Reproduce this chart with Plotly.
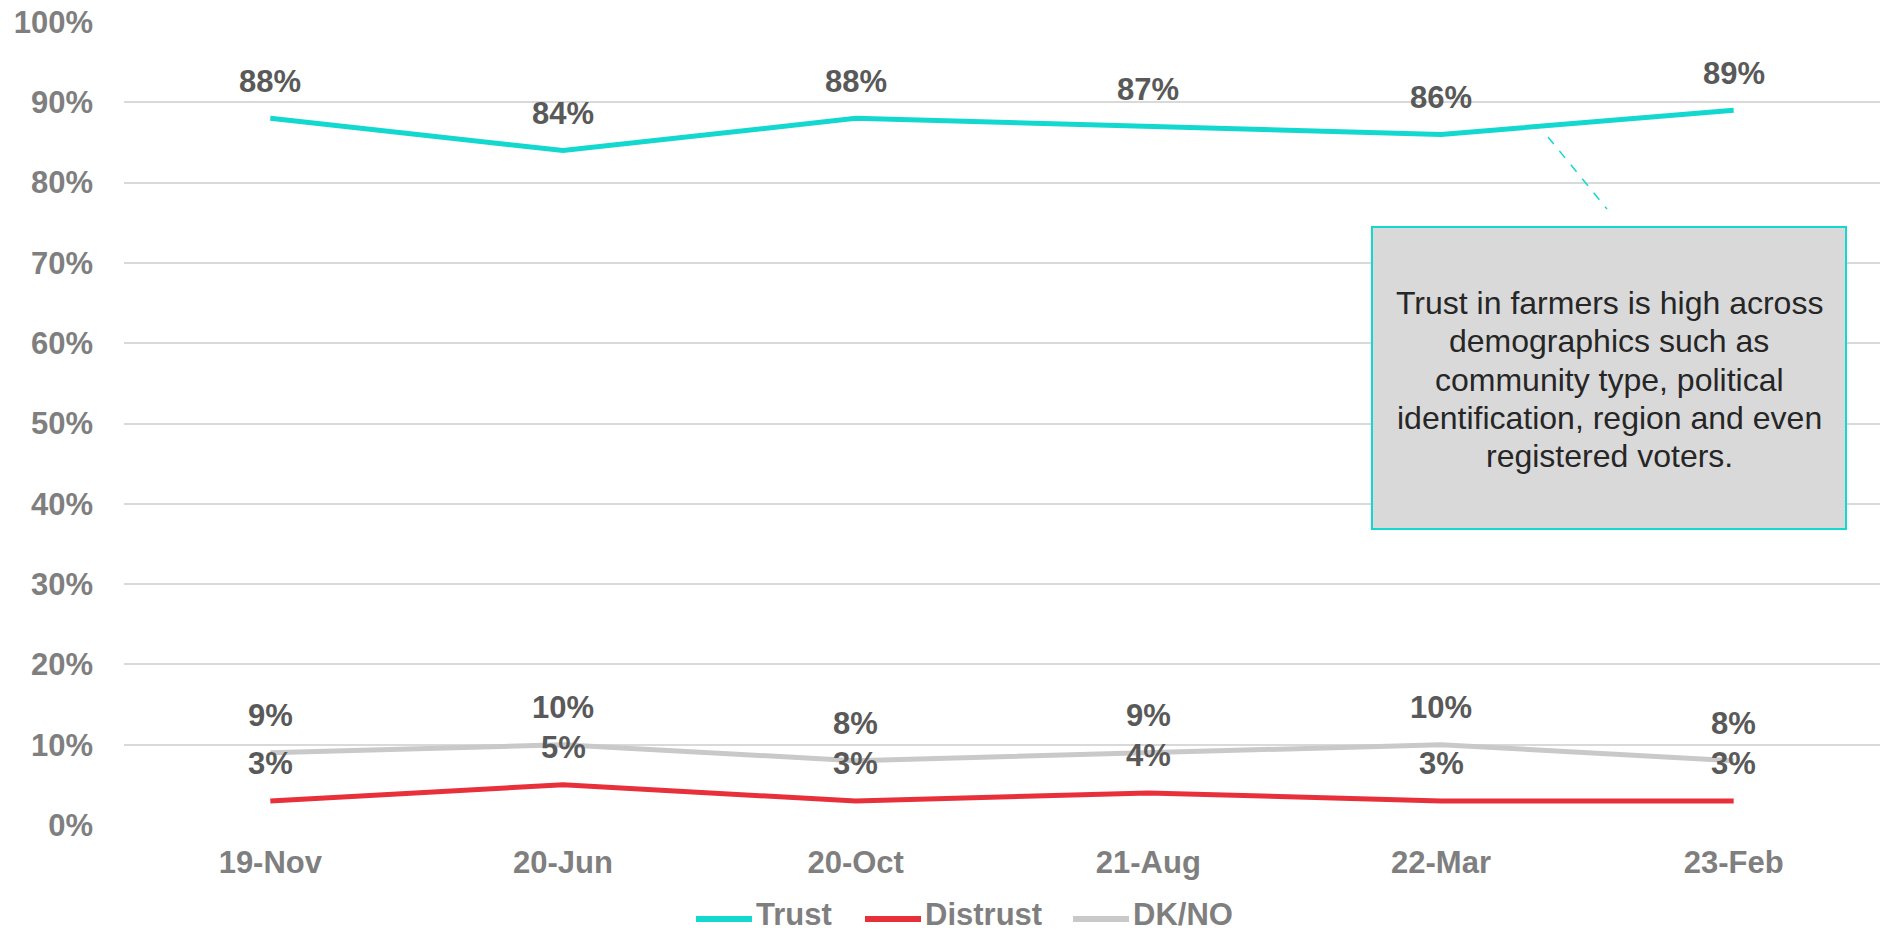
import plotly.graph_objects as go

categories = ["19-Nov", "20-Jun", "20-Oct", "21-Aug", "22-Mar", "23-Feb"]
trust = [0.88, 0.84, 0.88, 0.87, 0.86, 0.89]
distrust = [0.03, 0.05, 0.03, 0.04, 0.03, 0.03]
dkno = [0.09, 0.10, 0.08, 0.09, 0.10, 0.08]
series_names = ["Trust", "Distrust", "DK/NO"]
series_colors = ["#12D8CF", "#E8303A", "#C9C9C9"]
y_ticks = [0, 0.1, 0.2, 0.3, 0.4, 0.5, 0.6, 0.7, 0.8, 0.9, 1.0]
note_lines = [
    "Trust in farmers is high across",
    "demographics such as",
    "community type, political",
    "identification, region and even",
    "registered voters.",
]

FONT = "Liberation Sans, Arial, sans-serif"
W, H = 1882, 936
L, R, T, B = 124, 2, 22, 111
PW, PH = W - L - R, H - T - B


def px(x):
    return (x - L) / PW


def py(y):
    return (H - B - y) / PH


fig = go.Figure()
annotations = []
for name, vals, color in zip(series_names, [trust, distrust, dkno], series_colors):
    fig.add_trace(go.Scatter(
        x=categories, y=vals, name=name, mode="lines",
        line=dict(color=color, width=5), hoverinfo="skip", showlegend=False,
    ))
    for c, v in zip(categories, vals):
        annotations.append(dict(
            x=c, y=v, xref="x", yref="y", text=f"{round(v*100)}%",
            showarrow=False, yshift=37,
            font=dict(family=FONT, size=31, color="#595959", weight="bold"),
        ))

# note box
fig.add_shape(
    type="rect", xref="paper", yref="paper",
    x0=px(1372), x1=px(1846), y0=py(529), y1=py(227),
    fillcolor="#D9D9D9", line=dict(color="#12D8CF", width=2), layer="above",
)
for i, line in enumerate(note_lines):
    annotations.append(dict(
        xref="paper", yref="paper", x=px((1372 + 1846) / 2), y=py(303 + 38.3 * i),
        xanchor="center", yanchor="middle", text=line, showarrow=False,
        font=dict(family=FONT, size=32, color="#262626"),
    ))

# dashed connector
fig.add_shape(
    type="line", xref="paper", yref="paper",
    x0=px(1548), y0=py(137), x1=px(1607), y1=py(209),
    line=dict(color="#12D8CF", width=1.5, dash="dash"),
)

# custom legend
legend_line_x = [696, 865, 1073]
for name, color, lx in zip(series_names, series_colors, legend_line_x):
    fig.add_shape(
        type="line", xref="paper", yref="paper",
        x0=px(lx), x1=px(lx + 56), y0=py(919), y1=py(919),
        line=dict(color=color, width=6),
    )
    annotations.append(dict(
        xref="paper", yref="paper", x=px(lx + 58), y=py(914),
        xanchor="left", yanchor="middle", text=name, showarrow=False,
        font=dict(family=FONT, size=31, color="#7F7F7F", weight="bold"),
    ))

fig.update_layout(
    width=W, height=H,
    margin=dict(l=L, r=R, t=T, b=B),
    paper_bgcolor="white", plot_bgcolor="white",
    showlegend=False,
    annotations=annotations,
    hovermode=False,
)
fig.update_xaxes(
    type="category", range=[-0.5, 5.5], showgrid=False, zeroline=False,
    showline=False, ticks="", automargin=False,
    tickfont=dict(family=FONT, size=31, color="#7F7F7F", weight="bold"),
    ticklabelstandoff=16,
)
fig.update_yaxes(
    range=[0, 1], tickvals=y_ticks, tickformat=".0%",
    showgrid=True, gridcolor="#D9D9D9", gridwidth=1.5,
    zeroline=False, showline=False, ticks="", automargin=False,
    tickfont=dict(family=FONT, size=31, color="#7F7F7F", weight="bold"),
    ticklabelstandoff=30,
)

fig.write_html(
    "out.html",
    config={"displayModeBar": False},
    post_script="document.body.style.margin='0';document.body.style.overflow='hidden';",
)
